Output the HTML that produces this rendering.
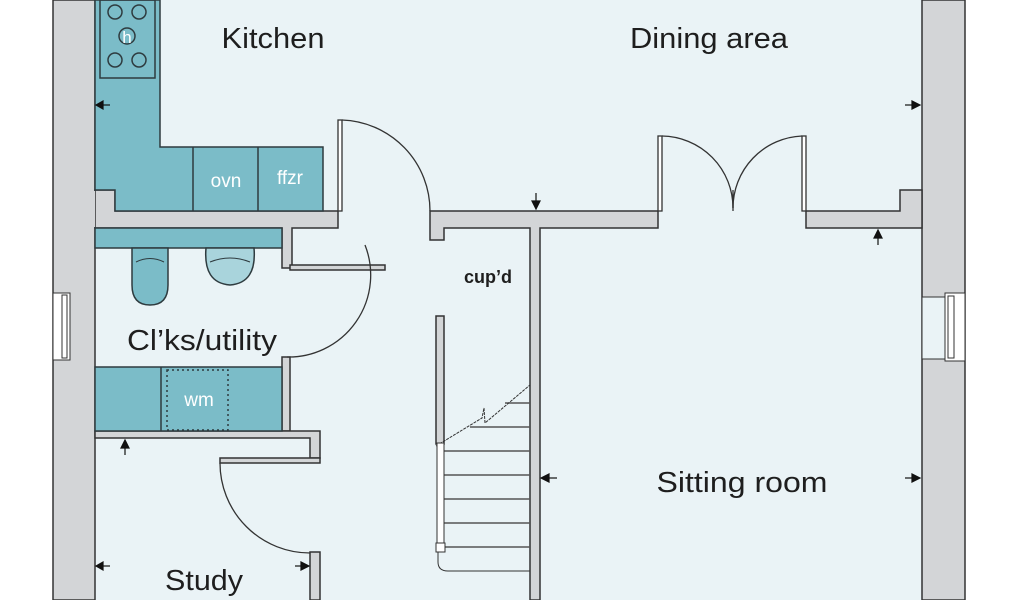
<!DOCTYPE html>
<html><head><meta charset="utf-8"><style>
html,body{margin:0;padding:0;background:#fff;}
svg{display:block;}
text{font-family:"Liberation Sans",sans-serif;fill:#1e1e1e;}
</style></head><body>
<svg width="1024" height="600" viewBox="0 0 1024 600" xmlns="http://www.w3.org/2000/svg">
<rect x="0" y="0" width="1024" height="600" fill="#fff"/>
<rect x="53" y="0" width="912" height="600" fill="#eaf3f6"/>
<g fill="#d3d5d7" stroke="#333" stroke-width="1.5">
<rect x="53" y="0" width="42" height="600"/>
<rect x="922" y="0" width="43" height="600"/>
<path d="M95 190 H115 V211 H338 V228 H292 V268 H282 V228 H95 Z"/>
<path d="M430 211 H658 V228 H540 V600 H530 V228 H444 V240 H430 Z"/>
<path d="M806 211 H900 V190 H922 V228 H806 Z"/>
<path d="M290 265 H385 V270 H290 Z"/>
<rect x="436" y="316" width="8" height="128"/>
<rect x="282" y="357" width="8" height="74"/>
<path d="M95 431 H320 V458 H310 V438 H95 Z"/>
<rect x="220" y="458" width="100" height="5"/>
<rect x="310" y="552" width="10" height="48"/>
</g>
<rect x="54" y="191" width="41" height="36" fill="#d3d5d7"/>
<g fill="#fff" stroke="#333" stroke-width="1">
<rect x="53" y="293" width="17" height="67"/>
<rect x="62" y="295" width="5" height="63"/>
<rect x="945" y="293" width="20" height="68"/>
<rect x="948" y="296" width="6" height="62"/>
<rect x="922" y="297" width="23" height="62" fill="#eaf3f6"/>
</g>
<path d="M95 0 H160 V147 H323 V211 H115 V190 H95 Z" fill="#7bbcc8" stroke="#2e3b3f" stroke-width="1.5"/>
<line x1="193" y1="147" x2="193" y2="211" stroke="#2e3b3f" stroke-width="1.5"/>
<line x1="258" y1="147" x2="258" y2="211" stroke="#2e3b3f" stroke-width="1.5"/>
<rect x="100" y="0" width="55" height="78" fill="none" stroke="#2e3b3f" stroke-width="1.5"/>
<g fill="none" stroke="#2e3b3f" stroke-width="1.5">
<circle cx="115" cy="12" r="7"/><circle cx="139" cy="12" r="7"/>
<circle cx="115" cy="60" r="7"/><circle cx="139" cy="60" r="7"/>
<circle cx="127" cy="36" r="8"/>
</g>
<text x="127" y="43" font-size="17" style="fill:#fff" text-anchor="middle">h</text>
<text x="226" y="187" font-size="19" style="fill:#fff" text-anchor="middle">ovn</text>
<text x="290" y="184" font-size="19" style="fill:#fff" text-anchor="middle">ffzr</text>
<rect x="95" y="228" width="187" height="20" fill="#7bbcc8" stroke="#2e3b3f" stroke-width="1.5"/>
<path d="M132 248 V285 Q132 305 150 305 Q168 305 168 285 V248 Z" fill="#7bbcc8" stroke="#2e3b3f" stroke-width="1.5"/>
<path d="M136 262 Q150 255 164 262" fill="none" stroke="#2e3b3f"/>
<path d="M206 248 Q203 283 230 285 Q257 283 254 248 Z" fill="#a9d4dc" stroke="#2e3b3f" stroke-width="1.5"/>
<path d="M210 262 Q230 254 250 262" fill="none" stroke="#2e3b3f"/>
<rect x="95" y="367" width="187" height="64" fill="#7bbcc8" stroke="#2e3b3f" stroke-width="1.5"/>
<line x1="161" y1="367" x2="161" y2="431" stroke="#2e3b3f" stroke-width="1.5"/>
<rect x="167" y="370" width="61" height="60" fill="none" stroke="#2e3b3f" stroke-width="1.5" stroke-dasharray="2,3"/>
<text x="199" y="406" font-size="19" style="fill:#fff" text-anchor="middle">wm</text>
<g fill="none" stroke="#333" stroke-width="1.3">
<rect x="338" y="120" width="4" height="91" fill="#fff"/>
<path d="M342 120 A91 91 0 0 1 430 211"/>
<rect x="658" y="136" width="4" height="75" fill="#fff"/>
<path d="M662 136 A72 72 0 0 1 733 208"/>
<rect x="802" y="136" width="4" height="75" fill="#fff"/>
<path d="M802 136 A72 72 0 0 0 733 208"/>
<line x1="733" y1="190" x2="733" y2="211"/>
<path d="M365 245 A82 82 0 0 1 287 357"/>
<path d="M220 463 A90 90 0 0 0 310 553"/>
</g>
<g stroke="#555" stroke-width="1.6">
<line x1="505" y1="403" x2="530" y2="403"/>
<line x1="470" y1="427" x2="530" y2="427"/>
<line x1="444" y1="451" x2="530" y2="451"/>
<line x1="444" y1="475" x2="530" y2="475"/>
<line x1="444" y1="499" x2="530" y2="499"/>
<line x1="444" y1="523" x2="530" y2="523"/>
<line x1="444" y1="547" x2="530" y2="547"/>
</g>
<path d="M436 446 L482 418 L484 408 L485 423 L530 385" fill="none" stroke="#333" stroke-width="1" stroke-dasharray="3,1"/>
<rect x="437" y="443" width="7" height="100" fill="#fff" stroke="#333"/>
<rect x="436" y="543" width="9" height="9" fill="#fff" stroke="#333"/>
<path d="M438 552 V562 Q438 571 448 571 H530" fill="none" stroke="#333"/>
<g fill="#111" stroke="#111" stroke-width="1.2">
<line x1="100" y1="105" x2="110" y2="105"/><path d="M96 105 L103 101 L103 109Z"/>
<line x1="905" y1="105" x2="915" y2="105"/><path d="M920 105 L912 101 L912 109Z"/>
<line x1="536" y1="193" x2="536" y2="203"/><path d="M536 209 L532 201 L540 201Z"/>
<line x1="878" y1="235" x2="878" y2="245"/><path d="M878 230 L874 238 L882 238Z"/>
<line x1="125" y1="445" x2="125" y2="455"/><path d="M125 440 L121 448 L129 448Z"/>
<line x1="547" y1="478" x2="557" y2="478"/><path d="M541 478 L549 474 L549 482Z"/>
<line x1="905" y1="478" x2="915" y2="478"/><path d="M920 478 L912 474 L912 482Z"/>
<line x1="100" y1="566" x2="110" y2="566"/><path d="M96 566 L103 562 L103 570Z"/>
<line x1="295" y1="566" x2="305" y2="566"/><path d="M309 566 L301 562 L301 570Z"/>
</g>
<text x="273" y="48" font-size="29" text-anchor="middle" textLength="103" lengthAdjust="spacingAndGlyphs">Kitchen</text>
<text x="709" y="48" font-size="29" text-anchor="middle" textLength="158" lengthAdjust="spacingAndGlyphs">Dining area</text>
<text x="202" y="350" font-size="29" text-anchor="middle" textLength="150" lengthAdjust="spacingAndGlyphs">Cl’ks/utility</text>
<text x="488" y="283" font-size="18" font-weight="bold" text-anchor="middle">cup’d</text>
<text x="742" y="492" font-size="29" text-anchor="middle" textLength="171" lengthAdjust="spacingAndGlyphs">Sitting room</text>
<text x="204" y="590" font-size="29" text-anchor="middle" textLength="78" lengthAdjust="spacingAndGlyphs">Study</text>
</svg>
</body></html>
